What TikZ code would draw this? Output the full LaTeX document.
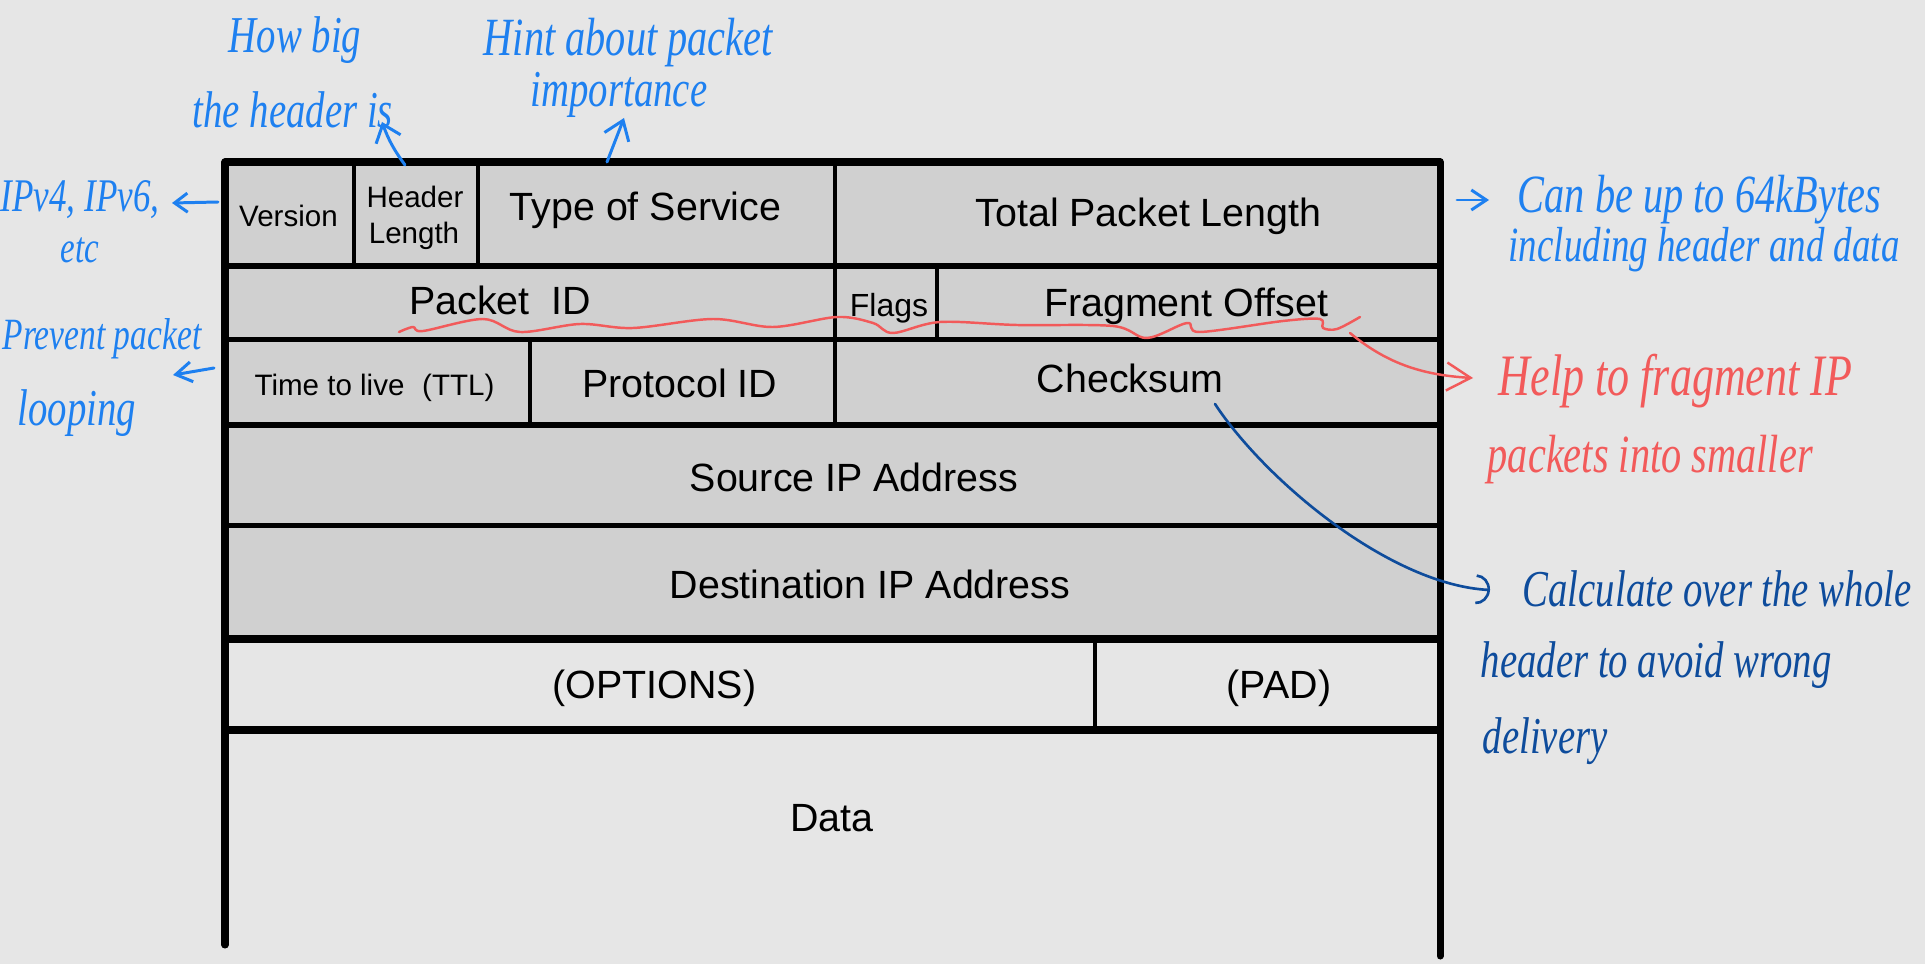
\documentclass[tikz,border=0pt]{standalone}
\usepackage{fontspec}
\setmainfont{Liberation Sans}
\newfontfamily\handfont{Liberation Serif}[FakeStretch=0.75]
\usetikzlibrary{arrows.meta}
\definecolor{paper}{HTML}{E6E6E6}
\definecolor{cellgray}{HTML}{D0D0D0}
\definecolor{penblue}{HTML}{1E80F0}
\definecolor{penred}{HTML}{F25A5A}
\definecolor{pennavy}{HTML}{0E4C9C}
\tikzset{
  big/.style={anchor=base, font=\fontsize{11.2}{13}\selectfont},
  small/.style={anchor=base, font=\fontsize{8.4}{10}\selectfont},
  note/.style={anchor=base west, inner sep=0pt, font=\handfont\itshape\fontsize{#1}{#1}\selectfont},
  note/.default=14.7,
  border/.style={line width=2pt, line cap=round, line join=round},
  rule/.style={line width=1.55pt},
  divider/.style={line width=1.15pt},
  pen/.style={line width=0.85pt, line cap=round, line join=round},
}
\begin{document}
\begin{tikzpicture}[x=0.01cm, y=-0.01cm]
      \useasboundingbox (0,0) rectangle (1925,964);
      \fill[paper] (0,0) rectangle (1925,964);
      \fill[cellgray] (225,162) rectangle (1440,639);
      \draw[rule]
        (225,266) -- (1440,266)
        (225,339.5) -- (1440,339.5)
        (225,425) -- (1440,425)
        (225,525.5) -- (1440,525.5);
      \draw[divider]
        (354,162) -- (354,266)
        (478,162) -- (478,266)
        (835,162) -- (835,425)
        (937,266) -- (937,339.5)
        (530,339.5) -- (530,425)
        (1095,639) -- (1095,730);
      \draw[border] (225,639) -- (1440,639) (225,730) -- (1440,730);
      \draw[border] (225,945) -- (225,162) -- (1440,162) -- (1440,956);
      \path
        (288.5,226.5) node[small] (ver){Version}
        (415,208) node[small] (hlen1){Header}
        (414,244) node[small] (hlen2){Length}
        (645.5,221) node[big] (tos){Type of Service}
        (1148.5,227) node[big] (len){Total Packet Length}
        (500,315) node[big] (pid){Packet\ \ ID}
        (889,316.5) node[anchor=base, font=\fontsize{9.1}{11}\selectfont] (flags){Flags}
        (1186,316.5) node[big] (frag){Fragment Offset}
        (374.5,395) node[small] (ttl){Time to live\hspace{0.6em}(TTL)}
        (680,397) node[big] (proto){Protocol ID}
        (1130,393) node[big] (chk){Checksum}
        (854,491.5) node[big] (src){Source IP Address}
        (870,598) node[big] (dst){Destination IP Address}
        (654.5,698) node[big] (opt){(OPTIONS)}
        (1279,698) node[big] (pad){(PAD)}
        (832,831) node[big] (data){Data};
      \begin{scope}[penblue]
        \path
          (228,53) node[note] (big1){How big}
          (192,128) node[note] (big2){the header is}
          (483,56) node[note=15.3] (hint1){Hint about packet}
          (530,107) node[note] (hint2){importance}
          (0,212) node[note=13.3] (ipv1){IPv4, IPv6,}
          (60,263) node[note=12.5] (ipv2){etc}
          (2,350) node[note=12.7] (prev1){Prevent packet}
          (17,425) node[note] (prev2){looping}
          (1517,213) node[note=15.3] (can1){Can be up to 64kBytes}
          (1508,262) node[note=14] (can2){including header and data};
      \end{scope}
      \begin{scope}[penred]
        \path
          (1498,395) node[note=16.7] (help1){Help to fragment IP}
          (1487,472) node[note=15.3] (help2){packets into smaller};
      \end{scope}
      \begin{scope}[pennavy]
        \path
          (1522,606) node[note] (calc1){Calculate over the whole}
          (1480,677) node[note] (calc2){header to avoid wrong}
          (1482,753) node[note] (calc3){delivery};
      \end{scope}
      \coordinate (hlenTop) at (405,165);
      \coordinate (hlenTip) at (382,122);
      \coordinate (tosTop) at (607,162);
      \coordinate (tosTip) at (624,118);
      \coordinate (verSide) at (218,202);
      \coordinate (verTip) at (172,203);
      \coordinate (ttlSide) at (214,368);
      \coordinate (ttlTip) at (173,375);
      \coordinate (lenSide) at (1457,200);
      \coordinate (lenTip) at (1489,200);
      \coordinate (waveEnd) at (1350,333);
      \coordinate (helpTip) at (1473,378);
      \coordinate (chkTail) at (1215,404);
      \coordinate (calcTip) at (1490,590);
      \begin{scope}[pen, penblue]
        \draw[-{Straight Barb[length=1.6mm,width=2.6mm]}] (hlenTop) to[bend left=8] (hlenTip);
        \draw[-{Straight Barb[length=1.8mm,width=2.6mm]}] (tosTop) to (tosTip);
        \draw[-{Straight Barb[length=1.3mm,width=1.9mm]}] (verSide) to (verTip);
        \draw[-{Straight Barb[length=1.6mm,width=2mm]}] (ttlSide) to (ttlTip);
        \draw[-{Straight Barb[length=1.5mm,width=2mm]}] (lenSide) to (lenTip);
      \end{scope}
      \begin{scope}[pen, penred, line width=0.7pt]
        \draw plot[smooth, tension=0.55] coordinates {(399,332) (413,327) (423,331) (483,319) (520,332) (580,324) (633,328) (713,319) (773,327) (837,317) (873,323) (893,333) (940,322) (1017,325) (1113,326) (1147,338) (1187,323) (1200,332) (1283,321) (1320,319) (1323,328) (1337,329) (1360,317)};
        \draw[-{Straight Barb[length=2.4mm,width=2.8mm]}] (waveEnd) .. controls (1385,362) and (1420,375) .. (helpTip);
      \end{scope}
      \draw[pen, pennavy, line width=0.75pt, -{Arc Barb[length=1.4mm,width=3mm]}] (chkTail) .. controls (1265,480) and (1390,585) .. (calcTip);
    \end{tikzpicture}
\end{document}
